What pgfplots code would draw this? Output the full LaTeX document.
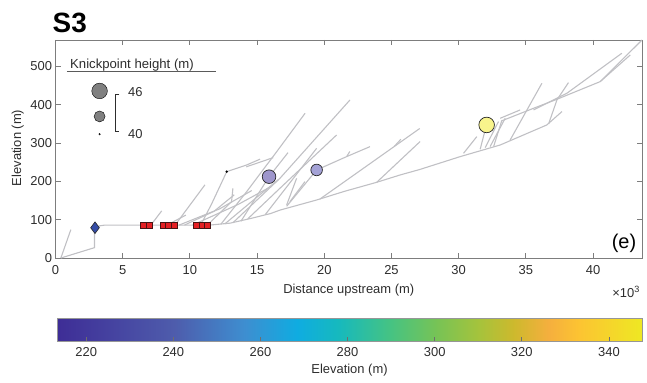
\documentclass[border=0pt]{standalone}
\usepackage{fontspec}
\setmainfont{Liberation Sans}
\usepackage{pgfplots}
\pgfplotsset{compat=1.18}
\definecolor{riv}{RGB}{192,192,196}
\definecolor{axgray}{RGB}{125,125,125}
\definecolor{cbframe}{RGB}{150,150,150}
\definecolor{cbtick}{RGB}{110,110,110}
\definecolor{sqedge}{RGB}{70,20,20}
\definecolor{txt}{RGB}{45,45,45}
\definecolor{kp1}{RGB}{158,150,204}
\definecolor{kp2}{RGB}{164,162,214}
\definecolor{kp3}{RGB}{248,244,140}
\definecolor{dia}{RGB}{52,76,166}
\definecolor{sq}{RGB}{228,32,36}
\definecolor{leggray}{RGB}{128,128,128}
\definecolor{lineg}{RGB}{90,90,90}
\pgfplotsset{
  colormap={refmap}{rgb255(0cm)=(62,45,150); rgb255(20cm)=(78,92,172); rgb255(32cm)=(62,142,208); rgb255(41cm)=(15,172,225); rgb255(48cm)=(22,185,190); rgb255(57cm)=(70,195,130); rgb255(65cm)=(120,195,85); rgb255(72cm)=(165,195,60); rgb255(78cm)=(205,185,45); rgb255(84cm)=(245,175,62); rgb255(89cm)=(252,195,50); rgb255(100cm)=(238,232,35)},
  rivline/.style={riv, line width=1.1bp, no markers},
}
\newcommand{\fs}[1]{\fontsize{#1}{#1}\selectfont}
\begin{document}
\begin{tikzpicture}[x=1bp,y=1bp]
\pgfplotscolormaptoshadingspec{refmap}{585bp}\cbspec
\def\tmpshade#1{\pgfdeclarehorizontalshading{cbshade}{23bp}{#1}}
\expandafter\tmpshade\expandafter{\cbspec}
\useasboundingbox (0,0) rectangle (647,382);
\node[anchor=base west, inner sep=0, font=\fs{28}\bfseries] at (52.5,350) {S3};
\begin{axis}[
  at={(55.5bp,124bp)}, anchor=south west, scale only axis,
  width=586.5bp, height=218bp,
  xmin=0, xmax=43.64, ymin=0, ymax=569,
  xtick={0,5,...,40}, ytick={0,100,...,500},
  tick align=inside, major tick length=5bp,
  axis line style={axgray, line width=0.8bp},
  every tick/.style={axgray, line width=0.8bp},
  tick label style={font=\fs{13}, text=txt},
  /pgf/number format/assume math mode=true,
  xticklabel style={yshift=-4bp},
  xlabel={Distance upstream (m)},
  ylabel={Elevation (m)},
  label style={font=\fs{13}, text=txt},
  xlabel style={at={(axis description cs:0.5,-0.147)}, anchor=center},
  ylabel style={at={(axis description cs:-0.0645,0.505)}, anchor=center},
]
% river network
\addplot[rivline] coordinates {(0.4,0) (2.9,27) (2.9,79) (3.3,84) (3.7,86) (11.5,86) (13,91) (14.5,103) (16,116) (16.7,125) (19.43,151.4) (21.5,174) (23.9,197.6) (25.64,216.7) (27.1,231) (30.11,264.6) (33.09,295) (36.56,347.3) (37.68,382.1)};
\addplot[rivline] coordinates {(0.4,0) (1.14,74)};
\addplot[rivline] coordinates {(32.6,291) (33.2,358) (35.57,390.8) (37.31,414.3) (40.53,460.4) (43.64,569)};
\addplot[rivline] coordinates {(33.83,308.1) (36.19,456)};
\addplot[rivline] coordinates {(36.69,350) (37.31,412.5) (38.17,457.8)};
\addplot[rivline] coordinates {(35.57,386.4) (38.05,430) (42.14,534.4)};
\addplot[rivline] coordinates {(40.53,460.4) (42.77,530)};
\addplot[rivline] coordinates {(30.36,273.3) (31.35,316.8)};
\addplot[rivline] coordinates {(31.6,284) (31.97,334.2)};
\addplot[rivline] coordinates {(31.97,288) (32.96,356)};
\addplot[rivline] coordinates {(32.34,291) (33.46,364.7)};
\addplot[rivline] coordinates {(33.09,364.7) (34.57,386.4)};
\addplot[rivline] coordinates {(19.68,154) (27.1,338)};
\addplot[rivline] coordinates {(23.9,197.6) (27.13,304)};
\addplot[rivline] coordinates {(7.1,86) (7.9,123)};
\addplot[rivline] coordinates {(8.9,86) (11.12,191)};
\addplot[rivline] coordinates {(10.8,86) (11.6,140) (12.74,225.3) (14.22,242.8) (15.22,258)};
\addplot[rivline] coordinates {(12.3,88) (14.22,173) (16.46,277.6) (18.57,377.7)};
\addplot[rivline] coordinates {(13.2,92) (16.7,208) (21.91,412.5)};
\addplot[rivline] coordinates {(14.3,102) (16.7,182) (20.92,321.2)};
\addplot[rivline] coordinates {(15.6,113) (19.43,286.3)};
\addplot[rivline] coordinates {(17.2,135) (19.43,229.8) (21.66,264.6) (23.4,290.7)};
\addplot[rivline] coordinates {(21.66,264.6) (21.9,278)};
\addplot[rivline] coordinates {(13.8,96) (15.89,212.3) (17.3,275)};
\addplot[rivline] coordinates {(9.6,86) (11.8,122) (13.3,165)};
\addplot[rivline] coordinates {(11.3,86) (13.1,147) (13.2,182)};
\addplot[rivline] coordinates {(12.6,89) (15.2,165) (16.6,205)};
\addplot[rivline] coordinates {(8.3,86) (9.7,112)};
\addplot[rivline] coordinates {(14.2,238) (16.2,262)};
\addplot[rivline] coordinates {(17.2,138.4) (17.94,208)};
\addplot[rivline] coordinates {(17.44,147) (18.56,199.3)};
\addplot[rivline] coordinates {(25.2,291) (25.7,310)};
\addplot[rivline] coordinates {(9.2,86) (12.2,128) (14.6,176)};
\addplot[rivline] coordinates {(10.2,86) (13.6,140) (15.9,184)};
% knickpoints / markers
\addplot[only marks, mark=square*, mark size=2.9bp, mark options={fill=sq, draw=sqedge, line width=0.6bp}] coordinates {(6.51,86.2) (6.96,86.2) (7.99,86.2) (8.42,86.2) (8.85,86.2) (10.5,86.2) (10.9,86.2) (11.29,86.2)};
\addplot[only marks, mark=diamond*, mark size=5.8bp, mark options={fill=dia, draw=black!85, line width=0.6bp}] coordinates {(2.94,79)};
\addplot[only marks, mark=*, mark size=1bp, mark options={fill=black, draw=black}] coordinates {(12.74,225.3)};
\addplot[only marks, mark=*, mark size=6.8bp, mark options={fill=kp1, draw=black!85, line width=0.7bp}] coordinates {(15.89,212.3)};
\addplot[only marks, mark=*, mark size=5.8bp, mark options={fill=kp2, draw=black!85, line width=0.7bp}] coordinates {(19.43,229.8)};
\addplot[only marks, mark=*, mark size=7.8bp, mark options={fill=kp3, draw=black!85, line width=0.7bp}] coordinates {(32.08,347.3)};
% knickpoint height legend
\node[anchor=base west, inner sep=0, font=\fs{13.2}, text=txt] at (axis cs:1.08,493.5) {Knickpoint height (m)};
\draw[lineg, line width=0.8bp] (axis cs:0.85,486.4) -- (axis cs:11.95,486.4);
\addplot[only marks, mark=*, mark size=7.8bp, mark options={fill=leggray, draw=none}] coordinates {(3.28,436)};
\addplot[only marks, mark=*, mark size=5.5bp, mark options={fill=leggray, draw=none}] coordinates {(3.28,369.5)};
\addplot[only marks, mark=*, mark size=0.8bp, mark options={fill=leggray, draw=none}] coordinates {(3.28,323)};
\draw[txt, line width=0.8bp] (axis cs:4.75,428) -- (axis cs:4.43,428) -- (axis cs:4.43,329.8) -- (axis cs:4.75,329.8);
\node[anchor=west, inner sep=0, font=\fs{13}, text=txt] at (axis cs:5.39,433.4) {46};
\node[anchor=west, inner sep=0, font=\fs{13}, text=txt] at (axis cs:5.39,323.8) {40};
\end{axis}
% colour bar
\begin{axis}[
  at={(57bp,41bp)}, anchor=south west, scale only axis,
  width=585bp, height=23bp,
  xmin=213.3, xmax=347.6, ymin=0, ymax=1,
  xtick={220,240,...,340}, ytick=\empty,
  xtick pos=left, xticklabel pos=left,
  tick align=inside, major tick length=4bp,
  axis line style={cbframe, line width=0.8bp},
  every tick/.style={cbtick, line width=0.8bp},
  tick label style={font=\fs{13}, text=txt},
  /pgf/number format/assume math mode=true,
  xticklabel style={yshift=-3bp},
  xlabel={Elevation (m)},
  xlabel style={font=\fs{13}, text=txt, at={(axis description cs:0.5,-1.26)}, anchor=center},
  axis on top,
]
\node[inner sep=0, anchor=south west] at (axis cs:213.3,0) {\pgfuseshading{cbshade}};
\end{axis}
\node[anchor=center, font=\fs{20}, text=black] at (624,139) {(e)};
\node[anchor=east, inner sep=0, font=\fs{13}, text=txt] at (640,90) {×10\textsuperscript{3}};
\end{tikzpicture}
\end{document}
